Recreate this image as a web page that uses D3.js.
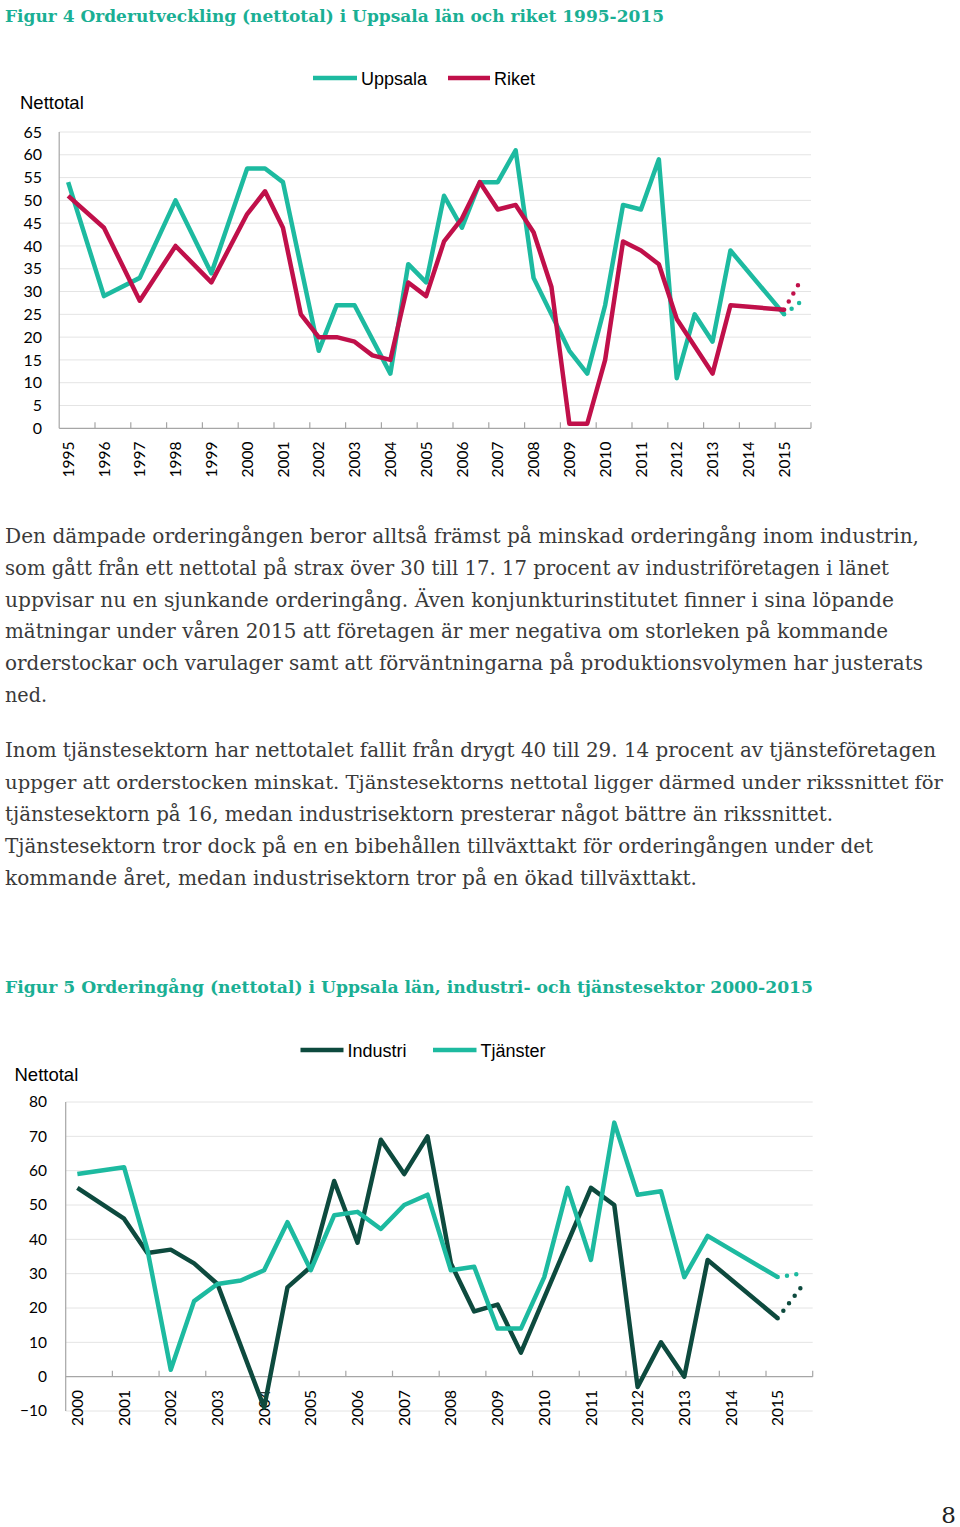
<!doctype html>
<html lang="sv">
<head>
<meta charset="utf-8">
<title>Orderutveckling Uppsala län</title>
<style>
    body { margin: 0; background: #fff; }
    svg { display: block; }
    .title { font-family: "DejaVu Serif", Georgia, serif; font-weight: bold; font-size: 17.5px; fill: #1aaf94; }
    .body { font-family: "DejaVu Serif", Georgia, serif; font-size: 20px; fill: #3a3a3a; }
    .tick-label { font-family: Lato, "Open Sans", sans-serif; font-size: 15.5px; fill: #000; }
    .ylabel { font-family: Lato, "Open Sans", sans-serif; font-size: 16px; fill: #000; }
    .unit, .legend { font-family: "Liberation Sans", Arial, sans-serif; fill: #000; }
    .unit { font-size: 18.5px; }
    .legend { font-size: 18px; }
    .grid line { stroke: #e4e4e4; stroke-width: 1px; }
    .axis-line { stroke: #a6a6a6; stroke-width: 1.2px; fill: none; }
    .line { fill: none; stroke-width: 4.5px; stroke-linejoin: round; }
    .prognos { fill: none; stroke-width: 4.5px; stroke-linecap: round; stroke-dasharray: 0 9.4; }
</style>
</head>
<body>
<svg id="page" width="960" height="1527"></svg>

<script src="https://d3js.org/d3.v7.min.js"></script>
<script>
// ---- data: Figur 4 (halvår, null = saknas) ----
const years4 = d3.range(1995, 2016).map(String);
const uppsala = [54, null, 29, null, 33, null, 50, null, 34, null,
                 57, 57, 54, null, 17, 27, 27, null, 12, 36,
                 32, 51, 44, 54, 54, 61, 33, null, 17, 12,
                 27, 49, 48, 59, 11, 25, 19, 39, null, null,
                 25, null];
const riket   = [51, null, 44, null, 28, null, 40, null, 32, null,
                 47, 52, 44, 25, 20, 20, 19, 16, 15, 32,
                 29, 41, 46, 54, 48, 49, 43, 31, 1, 1,
                 15, 41, 39, 36, 24, null, 12, 27, null, null,
                 26, null];
const uppsalaPrognos = 28;
const riketPrognos = 33;
const yTicks4 = [0, 5, 10, 15, 20, 25, 30, 35, 40, 45, 50, 55, 60, 65];

// ---- data: Figur 5 ----
const years5 = d3.range(2000, 2016).map(String);
const industri  = [55, null, 46, 36, 37, 33, 27, null, -9, 26,
                   32, 57, 39, 69, 59, 70, 33, 19, 21, 7,
                   null, null, 55, 50, -3, 10, 0, 34, null, null,
                   17, null];
const tjanster  = [59, null, 61, 37, 2, 22, 27, 28, 31, 45,
                   31, 47, 48, 43, 50, 53, 31, 32, 14, 14,
                   29, 55, 34, 74, 53, 54, 29, 41, null, null,
                   29, null];
const industriPrognos = 26;
const tjansterPrognos = 30;
const yTicks5 = [-10, 0, 10, 20, 30, 40, 50, 60, 70, 80];

const teal = "#1dbaa0", crimson = "#c0104a", darkgreen = "#0d4a3e";

const svg = d3.select("#page");

// ---- text ----
svg.append("text").attr("class", "title").attr("x", 5).attr("y", 22)
    .attr("textLength", 659).attr("lengthAdjust", "spacingAndGlyphs")
    .text("Figur 4 Orderutveckling (nettotal) i Uppsala län och riket 1995-2015");

svg.append("text").attr("class", "title").attr("x", 5).attr("y", 993)
    .attr("textLength", 808).attr("lengthAdjust", "spacingAndGlyphs")
    .text("Figur 5 Orderingång (nettotal) i Uppsala län, industri- och tjänstesektor 2000-2015");

// [rad, längd, teckenstorlek]
const para1 = [
    ["Den dämpade orderingången beror alltså främst på minskad orderingång inom industrin,", 914, 20],
    ["som gått från ett nettotal på strax över 30 till 17. 17 procent av industriföretagen i länet", 884, 20],
    ["uppvisar nu en sjunkande orderingång. Även konjunkturinstitutet finner i sina löpande", 889, 20],
    ["mätningar under våren 2015 att företagen är mer negativa om storleken på kommande", 883, 20],
    ["orderstockar och varulager samt att förväntningarna på produktionsvolymen har justerats", 918, 20],
    ["ned.", 42, 20]
];
const para2 = [
    ["Inom tjänstesektorn har nettotalet fallit från drygt 40 till 29. 14 procent av tjänsteföretagen", 931, 19.5],
    ["uppger att orderstocken minskat. Tjänstesektorns nettotal ligger därmed under rikssnittet för", 938, 18.5],
    ["tjänstesektorn på 16, medan industrisektorn presterar något bättre än rikssnittet.", 828, 20],
    ["Tjänstesektorn tror dock på en en bibehållen tillväxttakt för orderingången under det", 868, 20],
    ["kommande året, medan industrisektorn tror på en ökad tillväxttakt.", 692, 20]
];
para1.forEach(function(l, i) {
    svg.append("text").attr("class", "body").attr("x", 5).attr("y", 543 + i * 31.8)
        .style("font-size", l[2] + "px")
        .attr("textLength", l[1]).attr("lengthAdjust", "spacingAndGlyphs").text(l[0]);
});
para2.forEach(function(l, i) {
    svg.append("text").attr("class", "body").attr("x", 5).attr("y", 757 + i * 32)
        .style("font-size", l[2] + "px")
        .attr("textLength", l[1]).attr("lengthAdjust", "spacingAndGlyphs").text(l[0]);
});

svg.append("text").attr("x", 956).attr("y", 1523).attr("text-anchor", "end")
    .style("font-family", "'DejaVu Serif', Georgia, serif").style("font-size", "23px")
    .style("fill", "#222").text("8");

// ---- chart helper ----
function drawChart(opt) {
    const x = d3.scaleBand().domain(opt.years).range([opt.left, opt.right]);
    const y = d3.scaleLinear().domain(opt.domain).range([opt.bottom, opt.top]);
    const bw = x.bandwidth();
    const px = function(i) { return x(opt.years[Math.floor(i / 2)]) + bw * (0.25 + 0.5 * (i % 2)); };
    const g = svg.append("g");

    // gridlines
    g.append("g").attr("class", "grid")
        .selectAll("line").data(opt.ticks.filter(function(t) { return t !== 0 || !opt.zeroAxis; }))
        .join("line")
        .attr("x1", opt.left).attr("x2", opt.right)
        .attr("y1", function(d) { return y(d); }).attr("y2", function(d) { return y(d); });

    // y axis labels
    const yAxis = g.append("g")
        .attr("transform", "translate(" + opt.left + ",0)")
        .call(d3.axisLeft(y).tickValues(opt.ticks).tickSize(0).tickPadding(opt.left - opt.ylabelRight));
    yAxis.select(".domain").remove();
    yAxis.selectAll("text").attr("class", opt.ylabelClass).attr("fill", null);

    // axis lines
    g.append("line").attr("class", "axis-line")
        .attr("x1", opt.left).attr("x2", opt.left)
        .attr("y1", y(opt.domain[1])).attr("y2", y(opt.domain[0]));
    const xAxisY = y(opt.xAxisAt);
    g.append("line").attr("class", "axis-line")
        .attr("x1", opt.left).attr("x2", opt.right)
        .attr("y1", xAxisY).attr("y2", xAxisY);
    g.append("g").selectAll("line").data(opt.years.slice(1).concat(["__end"]))
        .join("line").attr("class", "axis-line")
        .attr("x1", function(d) { return d === "__end" ? opt.right : x(d); })
        .attr("x2", function(d) { return d === "__end" ? opt.right : x(d); })
        .attr("y1", xAxisY).attr("y2", xAxisY - 6);

    // x labels
    g.append("g").selectAll("text").data(opt.years).join("text")
        .attr("class", "tick-label")
        .attr("text-anchor", "end")
        .attr("dy", "0.36em")
        .attr("transform", function(d) {
            return "translate(" + (x(d) + bw * 0.25) + "," + opt.labelTop + ") rotate(-90)";
        })
        .text(function(d) { return d; });

    // unit
    svg.append("text").attr("class", "unit").attr("x", opt.unitX).attr("y", opt.unitY).text("Nettotal");

    // series
    const line = d3.line()
        .x(function(d) { return px(d.i); })
        .y(function(d) { return y(d.v); });
    opt.series.forEach(function(s) {
        const pts = s.values.map(function(v, i) { return {i: i, v: v}; })
            .filter(function(d) { return d.v !== null; });
        g.append("path").datum(pts).attr("class", "line").attr("stroke", s.color).attr("d", line);
        const last = pts[pts.length - 1];
        g.append("path").datum([last, {i: s.values.length - 1, v: s.prognos}])
            .attr("class", "prognos").attr("stroke", s.color).attr("d", line);
    });

    // legend
    opt.legend.forEach(function(l, k) {
        const s = opt.series[k];
        svg.append("line").attr("x1", l[0]).attr("x2", l[1])
            .attr("y1", opt.legendY).attr("y2", opt.legendY)
            .attr("stroke", s.color).attr("stroke-width", 4.5);
        svg.append("text").attr("class", "legend").attr("x", l[1] + 4).attr("y", opt.legendY + 6.5)
            .text(s.name);
    });
}

drawChart({
    years: years4, left: 59.2, right: 811, top: 132, bottom: 428.3,
    domain: [0, 65], ticks: yTicks4, xAxisAt: 0, zeroAxis: true,
    ylabelRight: 42, ylabelClass: "ylabel", labelTop: 441.5,
    unitX: 20, unitY: 109, legendY: 78,
    legend: [[313, 357], [448, 490]],
    series: [
        {name: "Uppsala", values: uppsala, prognos: uppsalaPrognos, color: teal},
        {name: "Riket", values: riket, prognos: riketPrognos, color: crimson}
    ]
});

drawChart({
    years: years5, left: 65.7, right: 812.7, top: 1102, bottom: 1411,
    domain: [-10, 80], ticks: yTicks5, xAxisAt: 0, zeroAxis: true,
    ylabelRight: 47, ylabelClass: "tick-label", labelTop: 1390,
    unitX: 14.5, unitY: 1081, legendY: 1050,
    legend: [[300.5, 343.5], [433, 476.5]],
    series: [
        {name: "Industri", values: industri, prognos: industriPrognos, color: darkgreen},
        {name: "Tjänster", values: tjanster, prognos: tjansterPrognos, color: teal}
    ]
});
</script>
</body>
</html>
